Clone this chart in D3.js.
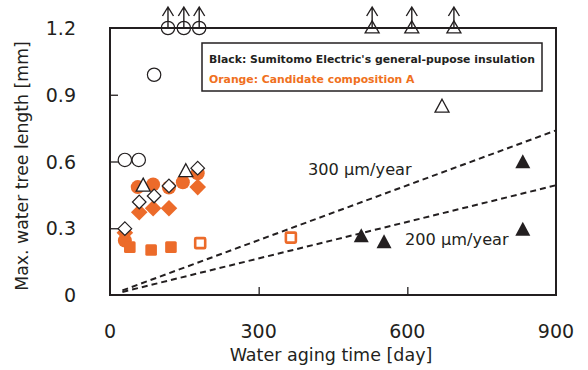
<!DOCTYPE html>
<html><head><meta charset="utf-8">
<script src="https://cdn.jsdelivr.net/npm/d3@7/dist/d3.min.js"></script>
<style>body{margin:0;background:#fff}svg{display:block}</style>
</head><body><svg id="c" width="588" height="370"></svg>
<script>
// ---- data ----
const xTicks = [0, 300, 600, 900];
const yTicks = [0, 0.3, 0.6, 0.9, 1.2];
const yTickLabels = ["0", "0.3", "0.6", "0.9", "1.2"];

const orangeCircleX = [30, 56, 87, 119, 147, 177];
const orangeCircleY = [0.245, 0.485, 0.497, 0.483, 0.507, 0.547];
const orangeDiamondX = [30, 59, 87, 119, 177];
const orangeDiamondY = [0.28, 0.372, 0.39, 0.39, 0.485];
const orangeSquareX = [40, 83, 123];
const orangeSquareY = [0.215, 0.202, 0.215];
const orangeOpenSquareX = [182, 365];
const orangeOpenSquareY = [0.233, 0.258];

const blackCircleX = [30, 58, 89];
const blackCircleY = [0.607, 0.607, 0.99];
const blackCircleOverX = [117, 149, 180];
const blackTriX = [67, 153, 670];
const blackTriY = [0.49, 0.555, 0.845];
const blackTriOverX = [529, 609, 694];
const blackDiamondX = [30, 59, 89, 119, 177];
const blackDiamondY = [0.298, 0.418, 0.445, 0.49, 0.57];
const blackFilledTriX = [507, 553, 833, 833];
const blackFilledTriY = [0.262, 0.235, 0.595, 0.292];

const rates = [300, 200];          // µm/year
const rateLabels = ["300 µm/year", "200 µm/year"];
const lineStartDay = 25;
const overLimit = 1.2;

// ---- layout ----
const svg = d3.select("#c");
const m = {l:110, r:556, t:28, b:295};
const x = d3.scaleLinear().domain([0, 900]).range([m.l, m.r]);
const y = d3.scaleLinear().domain([0, 1.2]).range([m.b, m.t]);
const ink = "#231f20", orange = "#ec6b2a", orangeText = "#f07020";
const font = "DejaVu Sans, Verdana, sans-serif";

// ticks inward
const gx = svg.append("g").attr("transform", `translate(0,${m.b})`)
  .call(d3.axisBottom(x).tickValues(xTicks.slice(1, -1)).tickSizeInner(-8).tickSizeOuter(0).tickFormat(""));
const gy = svg.append("g").attr("transform", `translate(${m.l},0)`)
  .call(d3.axisLeft(y).tickValues(yTicks.slice(1, -1)).tickSizeInner(-8).tickSizeOuter(0).tickFormat(""));
[gx, gy].forEach(g => { g.select(".domain").remove(); g.selectAll("line").attr("stroke", ink).attr("stroke-width", 1.3); });

// tick labels
svg.append("g").selectAll("text").data(xTicks).join("text")
  .attr("x", d => x(d)).attr("y", 338).attr("text-anchor", "middle")
  .attr("font-family", font).attr("font-size", 19).attr("fill", ink).text(d => d);
svg.append("g").selectAll("text").data(yTicks).join("text")
  .attr("x", 76).attr("y", d => y(d) + 7).attr("text-anchor", "end")
  .attr("font-family", font).attr("font-size", 19).attr("fill", ink).text((d, i) => yTickLabels[i]);

// axis titles
svg.append("text").attr("x", 331).attr("y", 361).attr("text-anchor", "middle")
  .attr("font-family", font).attr("font-size", 17.5).attr("fill", ink).text("Water aging time [day]");
svg.append("text").attr("transform", "translate(28,166) rotate(-90)").attr("text-anchor", "middle")
  .attr("font-family", font).attr("font-size", 17.3).attr("fill", ink).text("Max. water tree length [mm]");

// dashed rate lines
const lineG = svg.append("g");
rates.forEach(r => {
  const f = d => r / 1000 * d / 365;
  lineG.append("line").attr("x1", x(lineStartDay)).attr("y1", y(f(lineStartDay)))
    .attr("x2", x(900)).attr("y2", y(f(900)))
    .attr("stroke", ink).attr("stroke-width", 2).attr("stroke-dasharray", "6,4");
});
svg.append("text").attr("x", 308).attr("y", 175).attr("font-family", font).attr("font-size", 16.2)
  .attr("fill", ink).text(rateLabels[0]);
svg.append("text").attr("x", 405).attr("y", 245).attr("font-family", font).attr("font-size", 16.2)
  .attr("fill", ink).text(rateLabels[1]);

// symbol helpers
const tri = (cx, cy, w, h) => `M${cx},${cy - h*0.6}L${cx + w/2},${cy + h*0.4}L${cx - w/2},${cy + h*0.4}Z`;
const dia = (cx, cy, r) => `M${cx},${cy - r}L${cx + r},${cy}L${cx},${cy + r}L${cx - r},${cy}Z`;
const zip = (a, b) => a.map((v, i) => [v, b[i]]);

// orange series
const og = svg.append("g");
og.selectAll(".oc").data(zip(orangeCircleX, orangeCircleY)).join("circle")
  .attr("cx", d => x(d[0])).attr("cy", d => y(d[1])).attr("r", 7).attr("fill", orange);
og.selectAll(".od").data(zip(orangeDiamondX, orangeDiamondY)).join("path")
  .attr("d", d => dia(x(d[0]), y(d[1]), 8.3)).attr("fill", orange);
og.selectAll(".os").data(zip(orangeSquareX, orangeSquareY)).join("rect")
  .attr("x", d => x(d[0]) - 5.8).attr("y", d => y(d[1]) - 5.8).attr("width", 11.6).attr("height", 11.6)
  .attr("rx", 1.5).attr("fill", orange);
og.selectAll(".oo").data(zip(orangeOpenSquareX, orangeOpenSquareY)).join("rect")
  .attr("x", d => x(d[0]) - 5).attr("y", d => y(d[1]) - 5).attr("width", 10).attr("height", 10)
  .attr("rx", 1).attr("fill", "#fff").attr("stroke", orange).attr("stroke-width", 2.6);

// black series
const bg = svg.append("g");
bg.selectAll(".bc").data(zip(blackCircleX, blackCircleY)).join("circle")
  .attr("cx", d => x(d[0])).attr("cy", d => y(d[1])).attr("r", 6.7)
  .attr("fill", "#fff").attr("stroke", ink).attr("stroke-width", 1.2);
bg.selectAll(".bd").data(zip(blackDiamondX, blackDiamondY)).join("path")
  .attr("d", d => dia(x(d[0]), y(d[1]), 6.8)).attr("fill", "#fff").attr("stroke", ink).attr("stroke-width", 1.2);
bg.selectAll(".bt").data(zip(blackTriX, blackTriY)).join("path")
  .attr("d", d => tri(x(d[0]), y(d[1]), 14, 13)).attr("fill", "#fff").attr("stroke", ink).attr("stroke-width", 1.3);
bg.selectAll(".bf").data(zip(blackFilledTriX, blackFilledTriY)).join("path")
  .attr("d", d => tri(x(d[0]), y(d[1]), 15, 14)).attr("fill", ink);

// frame
svg.append("rect").attr("x", m.l).attr("y", m.t).attr("width", m.r - m.l).attr("height", m.b - m.t)
  .attr("fill", "none").attr("stroke", ink).attr("stroke-width", 2);

// over-range markers with arrows
const arrow = (g, cx) => {
  const top = y(overLimit) - 21;
  g.append("path").attr("d", `M${cx},${y(overLimit)}V${top}M${cx - 5.5},${top + 9}L${cx},${top}L${cx + 5.5},${top + 9}`)
    .attr("fill", "none").attr("stroke", ink).attr("stroke-width", 1.4);
};
const ag = svg.append("g");
blackCircleOverX.forEach(d => {
  ag.append("circle").attr("cx", x(d)).attr("cy", y(overLimit)).attr("r", 6.7)
    .attr("fill", "none").attr("stroke", ink).attr("stroke-width", 1.2);
  arrow(ag, x(d));
});
blackTriOverX.forEach(d => {
  ag.append("path").attr("d", tri(x(d), y(overLimit), 14, 12)).attr("fill", "none").attr("stroke", ink).attr("stroke-width", 1.3);
  arrow(ag, x(d));
});

// legend
svg.append("rect").attr("x", 202).attr("y", 43).attr("width", 340).attr("height", 48)
  .attr("fill", "#fff").attr("stroke", ink).attr("stroke-width", 1.5);
svg.append("text").attr("x", 209).attr("y", 63).attr("font-family", font).attr("font-weight", "bold")
  .attr("font-size", 10.85).attr("fill", ink).text("Black: Sumitomo Electric's general-pupose insulation");
svg.append("text").attr("x", 209).attr("y", 83).attr("font-family", font).attr("font-weight", "bold")
  .attr("font-size", 10.85).attr("fill", orangeText).text("Orange: Candidate composition A");
</script></body></html>
